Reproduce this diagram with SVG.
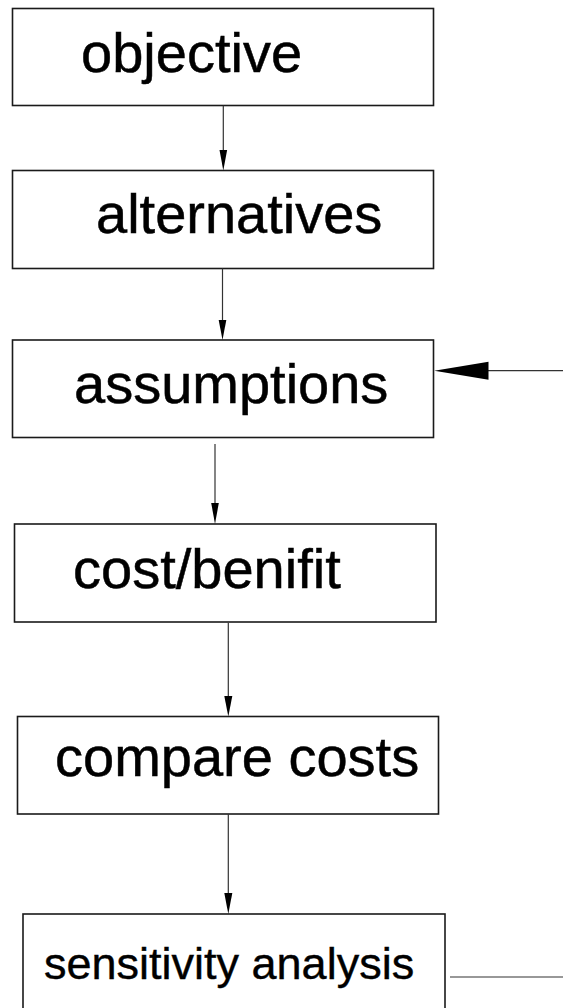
<svg xmlns="http://www.w3.org/2000/svg" width="563" height="1008" viewBox="0 0 563 1008">
  <style>
    .box { fill: #ffffff; stroke: #1a1a1a; stroke-width: 1.6; }
    .label { font-family: "Liberation Sans", Arial, sans-serif; font-size: 56px; fill: #000000; stroke: #000000; stroke-width: 0.5; }
    .small { font-size: 45px; stroke-width: 0.4; }
    .wire { stroke: #333333; stroke-width: 1.2; fill: none; }
    .head { fill: #000000; }
  </style>
  <rect width="563" height="1008" fill="#ffffff"/>

  <g id="objective">
    <rect class="box" x="12.5" y="8.5" width="421" height="97"/>
    <text class="label" x="81" y="72">objective</text>
  </g>
  <g id="alternatives">
    <rect class="box" x="12.5" y="170.5" width="421" height="98"/>
    <text class="label" x="96" y="232.5">alternatives</text>
  </g>
  <g id="assumptions">
    <rect class="box" x="12.5" y="340" width="421" height="97.5"/>
    <text class="label" x="74" y="403">assumptions</text>
  </g>
  <g id="cost-benifit">
    <rect class="box" x="14.5" y="524" width="421.5" height="98"/>
    <text class="label" x="73" y="588">cost/benifit</text>
  </g>
  <g id="compare-costs">
    <rect class="box" x="17.5" y="716.5" width="421" height="97.5"/>
    <text class="label" x="55" y="776">compare costs</text>
  </g>
  <g id="sensitivity-analysis">
    <rect class="box" x="23" y="914" width="422" height="110"/>
    <text class="label small" x="44" y="979">sensitivity analysis</text>
  </g>

  <g id="connectors">
    <line class="wire" x1="223.3" y1="105.7" x2="223.3" y2="150"/>
    <polygon class="head" points="219.5,150 227.1,150 223.3,170.5"/>

    <line class="wire" x1="222.5" y1="268.5" x2="222.5" y2="320"/>
    <polygon class="head" points="218.7,320 226.3,320 222.5,340"/>

    <line class="wire" x1="215" y1="444" x2="215" y2="503"/>
    <polygon class="head" points="211.2,503 218.8,503 215,524"/>

    <line class="wire" x1="228.3" y1="622.7" x2="228.3" y2="696"/>
    <polygon class="head" points="224.3,696 232.3,696 228.3,716.5"/>

    <line class="wire" x1="228.3" y1="814" x2="228.3" y2="893"/>
    <polygon class="head" points="224.3,893 232.3,893 228.3,914"/>

    <line class="wire" x1="488" y1="370.7" x2="563" y2="370.7"/>
    <polygon class="head" points="434.3,370.7 488.5,361.7 488.5,379.7"/>

    <line class="wire" x1="450" y1="977" x2="563" y2="977"/>
  </g>
</svg>
